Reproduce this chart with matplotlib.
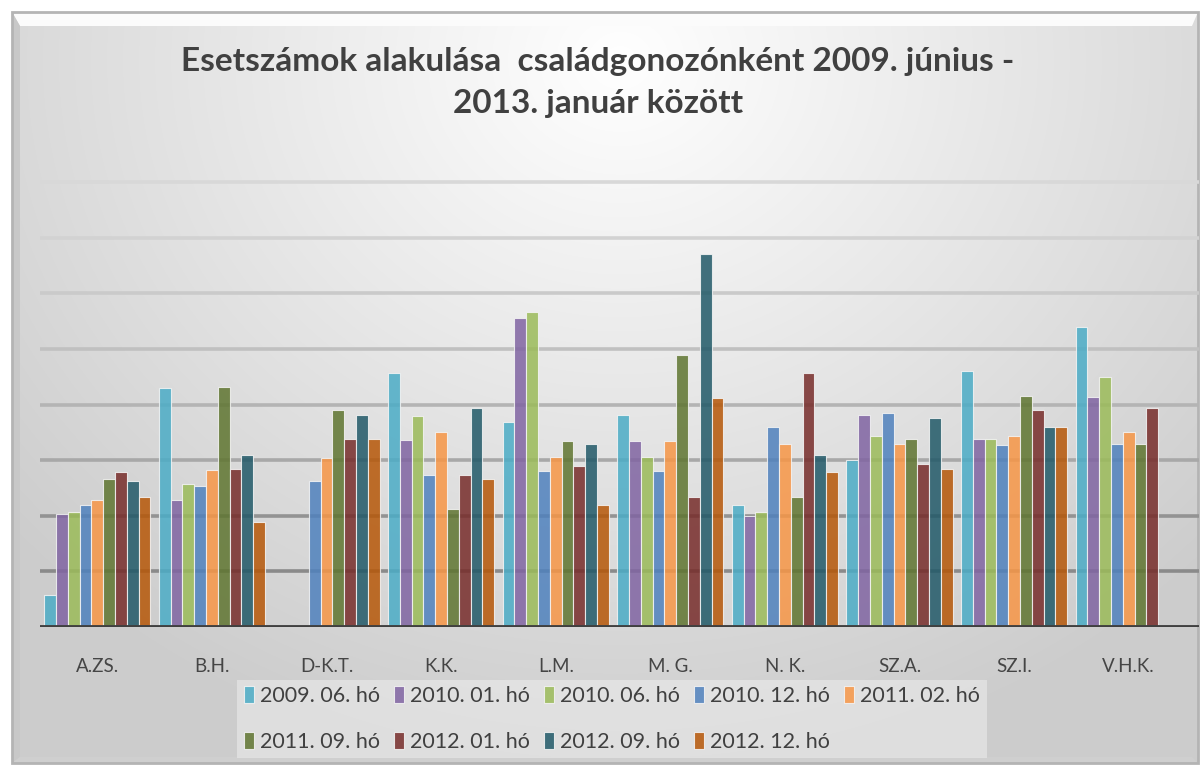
import numpy as np
import matplotlib.pyplot as plt
from matplotlib.patches import Rectangle, Polygon

categories = ["A.ZS.", "B.H.", "D-K.T.", "K.K.", "L.M.", "M. G.", "N. K.", "SZ.A.", "SZ.I.", "V.H.K."]
series_labels = ["2009. 06. hó", "2010. 01. hó", "2010. 06. hó", "2010. 12. hó", "2011. 02. hó",
                 "2011. 09. hó", "2012. 01. hó", "2012. 09. hó", "2012. 12. hó"]
nan = np.nan
s2009_06 = [0.58, 4.30, nan, 4.56, 3.69, 3.81, 2.20, 3.00, 4.61, 5.40]
s2010_01 = [2.03, 2.29, nan, 3.36, 5.56, 3.35, 1.99, 3.81, 3.39, 4.14]
s2010_06 = [2.07, 2.57, nan, 3.80, 5.66, 3.05, 2.07, 3.44, 3.39, 4.50]
s2010_12 = [2.20, 2.54, 2.63, 2.74, 2.80, 2.80, 3.60, 3.85, 3.27, 3.30]
s2011_02 = [2.29, 2.83, 3.04, 3.51, 3.05, 3.35, 3.30, 3.30, 3.44, 3.51]
s2011_09 = [2.67, 4.31, 3.90, 2.13, 3.35, 4.89, 2.33, 3.39, 4.15, 3.30]
s2012_01 = [2.79, 2.84, 3.39, 2.74, 2.89, 2.33, 4.56, 2.94, 3.90, 3.94]
s2012_09 = [2.63, 3.10, 3.81, 3.94, 3.30, 6.71, 3.10, 3.76, 3.60, nan]
s2012_12 = [2.33, 1.88, 3.39, 2.67, 2.20, 4.11, 2.79, 2.85, 3.60, nan]
series = [s2009_06, s2010_01, s2010_06, s2010_12, s2011_02, s2011_09, s2012_01, s2012_09, s2012_12]
colors = ["#4BACC6", "#8064A2", "#9BBB59", "#4F81BD", "#F79646",
          "#5F7530", "#772C2A", "#215968", "#B65708"]

W, H = 1201, 766
fig = plt.figure(figsize=(W / 100, H / 100), dpi=100)
fig.patch.set_facecolor("white")

# background gradient panel
bg = fig.add_axes([0, 0, 1, 1], zorder=-10)
bg.set_xlim(0, W); bg.set_ylim(H, 0); bg.axis("off")
yy, xx = np.mgrid[0:H, 0:W]
d = np.sqrt(((xx - 620) / 900.0) ** 2 + ((yy - 60) / 800.0) ** 2)
val = np.clip(1.0 - 0.22 * d, 0.80, 1.0)
img = np.dstack([val, val, val])
x0, y0, x1, y1 = 12, 12, 1198, 763
bg.imshow(img[y0:y1, x0:x1], extent=(x0, x1, y1, y0), aspect="auto", interpolation="bilinear")
# frame bevel
bg.add_patch(Polygon([[x0, y0], [x1, y0], [x1 - 6, y0 + 14], [x0 + 8, y0 + 14]], closed=True,
                     facecolor="#fbfbfb", edgecolor="none"))
bg.add_patch(Polygon([[x0, y0], [x0 + 8, y0 + 14], [x0 + 8, y1 - 6], [x0, y1]], closed=True,
                     facecolor="#c8c8c8", edgecolor="none"))
bg.add_patch(Polygon([[x0, y1], [x0 + 8, y1 - 6], [x1 - 6, y1 - 6], [x1, y1]], closed=True,
                     facecolor="#cfcfcf", edgecolor="none"))
bg.add_patch(Rectangle((x0, y0), x1 - x0, y1 - y0, facecolor="none", edgecolor="#b4b4b4", lw=2))

# main axes
left_px, base_px = 40, 627
unit_px = 55.6
ymax = 8.6
ax = fig.add_axes([left_px / W, (H - base_px) / H, (W - 2 - left_px) / W, ymax * unit_px / H])
ax.patch.set_alpha(0)
n = len(series)
bw = 0.103
x = np.arange(len(categories))
for i, (vals, c, lab) in enumerate(zip(series, colors, series_labels)):
    ax.bar(x + (i - (n - 1) / 2) * bw, vals, width=bw, color=c, alpha=0.85,
           edgecolor="#f4f4f4", linewidth=0.8, label=lab, zorder=3)
grid_cols = ["#8a8a8a", "#939393", "#a8a8a8", "#b4b4b4", "#c0c0c0", "#cacaca", "#d2d2d2", "#d8d8d8"]
for k in range(1, 9):
    ax.axhline(k, color=grid_cols[k - 1], lw=2.6, zorder=1)
ax.axhline(0, color="#404040", lw=3.5, zorder=4)
ax.set_xlim(-0.5, 9.5 + (W - 2 - left_px - 10 * 114.6) / 114.6)
ax.set_ylim(0, ymax)
ax.set_yticks([])
ax.set_xticks(x)
ax.set_xticklabels(categories, fontsize=13.5, color="#454545", family="Lato")
ax.tick_params(axis="x", length=0, pad=22)
for s in ax.spines.values():
    s.set_visible(False)

fig.text(598 / W, 1 - 61 / H, "Esetszámok alakulása  családgonozónként 2009. június -",
         ha="center", va="center", fontsize=24, fontweight="bold", family="Lato", color="#404040")
fig.text(598 / W, 1 - 104 / H, "2013. január között",
         ha="center", va="center", fontsize=24, fontweight="bold", family="Lato", color="#404040")

handles, labels = ax.get_legend_handles_labels()
order = [0, 5, 1, 6, 2, 7, 3, 8, 4]
leg = fig.legend([handles[i] for i in order], [labels[i] for i in order], ncol=5, loc="center",
                 bbox_to_anchor=(612 / W, 1 - 719 / H),
                 frameon=True, fancybox=False, framealpha=0.45, facecolor="#f4f4f4", edgecolor="none",
                 prop={"family": "Lato", "size": 15.5}, labelcolor="#404040",
                 handlelength=0.45, handleheight=0.8, handletextpad=0.3, columnspacing=0.65,
                 labelspacing=1.2, borderpad=0.3)

fig.savefig("out.png", dpi=100, facecolor="white")
